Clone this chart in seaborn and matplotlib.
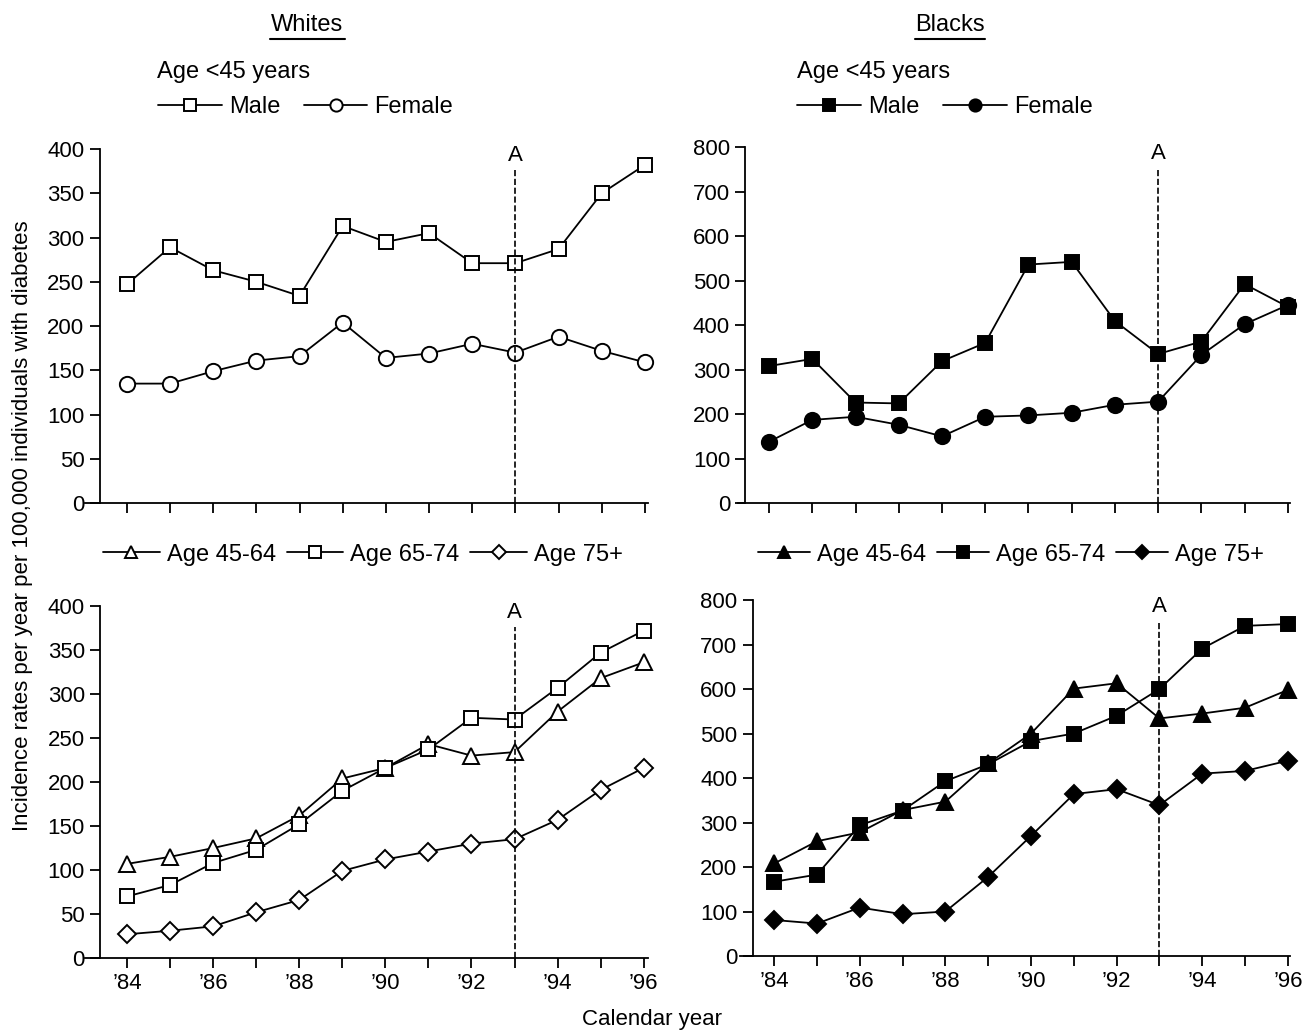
import numpy as np
import pandas as pd
import matplotlib.pyplot as plt
import seaborn as sns
from matplotlib.lines import Line2D

# 数据
years = list(range(1984, 1997))
year_vals = [y - 1900 for y in years]
tick_labels = ["\u201984", "", "\u201986", "", "\u201988", "", "\u201990", "",
               "\u201992", "", "\u201994", "", "\u201996"]

# Whites, age <45
w_male = [247, 289, 263, 250, 234, 313, 295, 305, 271, 271, 287, 350, 382]
w_female = [135, 135, 149, 161, 166, 204, 164, 169, 180, 170, 188, 172, 159]
# Blacks, age <45
b_male = [308, 324, 226, 224, 319, 360, 536, 542, 409, 335, 363, 492, 441]
b_female = [138, 187, 194, 176, 150, 194, 197, 203, 221, 228, 333, 402, 445]
# Whites, older
w_4564 = [107, 115, 125, 136, 162, 204, 216, 243, 230, 234, 280, 318, 336]
w_6574 = [70, 83, 108, 123, 152, 190, 216, 237, 273, 271, 307, 347, 372]
w_75 = [27, 31, 36, 52, 66, 99, 112, 121, 130, 135, 157, 191, 216]
# Blacks, older
b_4564 = [208, 258, 278, 328, 347, 433, 500, 601, 613, 534, 545, 558, 598]
b_6574 = [167, 183, 294, 327, 393, 431, 483, 500, 540, 600, 691, 742, 746]
b_75 = [81, 73, 109, 94, 100, 178, 270, 364, 375, 339, 410, 416, 439]

event_year = 93

sns.set_style('ticks')
plt.rcParams['font.family'] = ['Liberation Sans', 'DejaVu Sans']
plt.rcParams['text.color'] = 'black'
FS = 16     # 刻度
FS_T = 17   # 其他文字

fig = plt.figure(figsize=(13.05, 10.31), dpi=100)


def draw_series(ax, vals, marker, filled, ms):
    sns.lineplot(x=year_vals, y=vals, ax=ax, color='black', lw=1.3,
                 marker=marker, ms=ms, mec='black', mew=1.4,
                 mfc='black' if filled else 'white', clip_on=False)


def setup_axis(ax, xlo, xhi, spine_x, ymax, ystep, show_labels):
    ax.set_xlim(xlo, xhi)
    ax.set_ylim(0, ymax)
    ax.spines['left'].set_position(('data', spine_x))
    sns.despine(ax=ax)
    for s in ['left', 'bottom']:
        ax.spines[s].set_linewidth(1.3)
        ax.spines[s].set_color('black')
    ax.set_yticks(np.arange(0, ymax + 1, ystep))
    ax.set_xticks(year_vals)
    ax.set_xticklabels(tick_labels if show_labels else [''] * len(years))
    ax.tick_params(axis='both', direction='out', length=7, width=1.3,
                   labelsize=FS, pad=4, color='black', labelcolor='black')
    ax.set_xlabel('')
    ax.set_ylabel('')
    ax.axvline(event_year, ymin=0, ymax=0.94, ls='--', color='black', lw=1.2)
    ax.text(event_year, ymax * 0.983, 'A', ha='center', va='center', fontsize=FS)


ax_tl = fig.add_axes([0.0651, 0.512, 0.4314, 0.3435])
ax_tr = fig.add_axes([0.5655, 0.512, 0.4230, 0.3454])
ax_bl = fig.add_axes([0.0651, 0.0708, 0.4314, 0.3414])
ax_br = fig.add_axes([0.5670, 0.0727, 0.4215, 0.3453])

draw_series(ax_tl, w_male, 's', False, 10)
draw_series(ax_tl, w_female, 'o', False, 11)
setup_axis(ax_tl, 83.03, 96.07, 83.37, 400, 50, False)

draw_series(ax_tr, b_male, 's', True, 10)
draw_series(ax_tr, b_female, 'o', True, 11)
setup_axis(ax_tr, 83.28, 96.05, 83.45, 800, 100, False)

draw_series(ax_bl, w_4564, '^', False, 11)
draw_series(ax_bl, w_6574, 's', False, 10)
draw_series(ax_bl, w_75, 'D', False, 9)
setup_axis(ax_bl, 83.02, 96.1, 83.37, 400, 50, True)

draw_series(ax_br, b_4564, '^', True, 11)
draw_series(ax_br, b_6574, 's', True, 10)
draw_series(ax_br, b_75, 'D', True, 9)
setup_axis(ax_br, 83.2, 96.05, 83.5, 800, 100, True)

# 图例
leg_kw = dict(frameon=False, fontsize=FS_T, handletextpad=0.3,
              borderpad=0, borderaxespad=0, loc='center left', markerscale=0.8)
fig.legend(ax_tl.lines[:2], ['Male', 'Female'], ncol=2, columnspacing=1.0,
           handlelength=2.7, bbox_to_anchor=(0.121, 0.896), **leg_kw)
fig.legend(ax_tr.lines[:2], ['Male', 'Female'], ncol=2, columnspacing=1.0,
           handlelength=2.7, bbox_to_anchor=(0.611, 0.896), **leg_kw)
fig.legend(ax_bl.lines[:3], ['Age 45-64', 'Age 65-74', 'Age 75+'], ncol=3,
           columnspacing=0.45, handlelength=2.4,
           bbox_to_anchor=(0.079, 0.462), **leg_kw)
fig.legend(ax_br.lines[:3], ['Age 45-64', 'Age 65-74', 'Age 75+'], ncol=3,
           columnspacing=0.45, handlelength=2.2,
           bbox_to_anchor=(0.581, 0.462), **leg_kw)

fig.text(0.120, 0.930, 'Age <45 years', fontsize=FS_T, ha='left', va='center')
fig.text(0.611, 0.930, 'Age <45 years', fontsize=FS_T, ha='left', va='center')

# 标题（带下划线）
for cx, name, (x0, x1) in [(0.2352, 'Whites', (0.2069, 0.2644)),
                           (0.7280, 'Blacks', (0.7011, 0.7548))]:
    fig.text(cx, 0.976, name, fontsize=FS_T, ha='center', va='center')
    fig.add_artist(Line2D([x0, x1], [0.962, 0.962], color='black', lw=1.5,
                          transform=fig.transFigure))

fig.text(0.017, 0.49, 'Incidence rates per year per 100,000 individuals with diabetes',
         rotation=90, fontsize=FS, ha='center', va='center')
fig.text(0.5, 0.011, 'Calendar year', fontsize=FS, ha='center', va='center')

fig.savefig('out.png', dpi=100)
